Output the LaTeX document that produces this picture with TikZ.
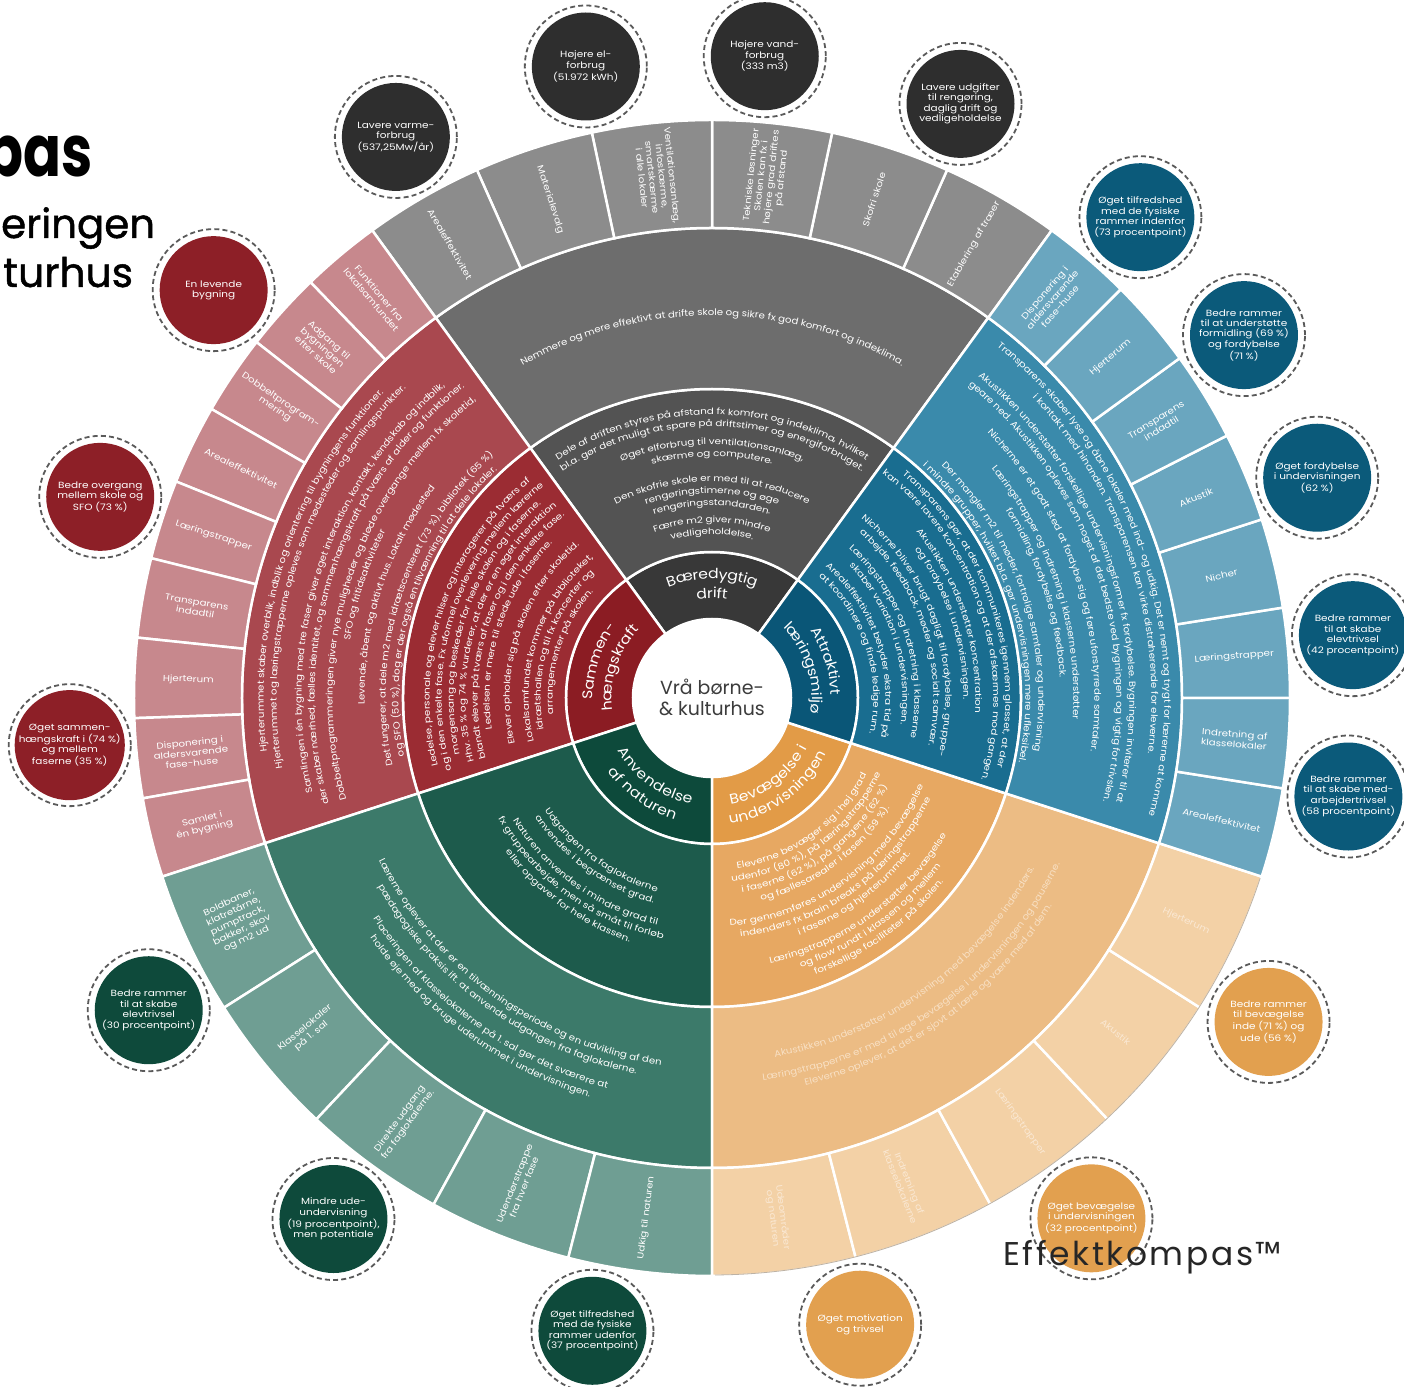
\documentclass[tikz,border=0pt]{standalone}
\usepackage{fontspec}
\setmainfont{Poppins}
\newfontfamily\effk[LetterSpace=8]{Poppins}
\newfontfamily\bodyf[FakeStretch=1.17]{Poppins}
\newfontfamily\bodyw[FakeStretch=1.2]{Poppins}
\newfontfamily\bodyt[FakeStretch=1.12]{Poppins}
\newfontfamily\titlef[FakeBold=1.2]{Poppins}
\usetikzlibrary{decorations.text}

\definecolor{gA}{HTML}{383838}\definecolor{gB}{HTML}{535353}\definecolor{gC}{HTML}{6D6D6D}\definecolor{gD}{HTML}{8C8C8C}
\definecolor{rA}{HTML}{8B1C23}\definecolor{rB}{HTML}{9B2C33}\definecolor{rC}{HTML}{A9484F}\definecolor{rD}{HTML}{C7888D}
\definecolor{bA}{HTML}{0A5677}\definecolor{bB}{HTML}{196D90}\definecolor{bC}{HTML}{3A8AAB}\definecolor{bD}{HTML}{6AA6BF}
\definecolor{oA}{HTML}{E29B47}\definecolor{oB}{HTML}{E7A862}\definecolor{oC}{HTML}{ECBC84}\definecolor{oD}{HTML}{F3D1A6}
\definecolor{nA}{HTML}{0D4A3B}\definecolor{nB}{HTML}{1D5B4C}\definecolor{nC}{HTML}{3C7A6A}\definecolor{nD}{HTML}{6F9E93}
\definecolor{bubdark}{HTML}{2E2E2E}\definecolor{bubblue}{HTML}{0B5A7A}\definecolor{buborange}{HTML}{E2A04F}
\definecolor{bubgreen}{HTML}{0E4A3B}\definecolor{bubred}{HTML}{8D1F27}\definecolor{ringgray}{HTML}{5A5A5A}
\definecolor{ctext}{HTML}{3C3C3C}\definecolor{ofaint}{HTML}{F8E0C4}\definecolor{ofainter}{HTML}{FAE8D3}
\definecolor{oedge}{HTML}{BDB2A4}

\newcommand\fa{\bodyw\fontsize{8.7}{10}\selectfont\color{white}}
\newcommand\fb{\bodyt\fontsize{9.1}{11}\selectfont\color{white}}
\newcommand\fbo{\bodyt\fontsize{9.1}{11}\selectfont\color{ofaint}}
\newcommand\fc{\bodyt\fontsize{14}{16}\selectfont\color{white}}

\newcommand\annsec[5]{%
  \fill[#1,draw=white,line width=2.5bp] (#2:#4) arc[start angle=#2,end angle=#3,radius=#4]
    -- (#3:#5) arc[start angle=#3,end angle=#2,radius=#5] -- cycle;}
\newcommand\toparc[5][-2.6bp]{%
  \pgfmathsetmacro\sa{#2+35.8}\pgfmathsetmacro\ea{#2-35.8}%
  \path[decorate,decoration={text along path,text align=center,raise=#1,text={|#4|#5}}]
    (\sa:#3) arc[start angle=\sa,end angle=\ea,radius=#3];}
\newcommand\botarc[5][-2.6bp]{%
  \pgfmathsetmacro\sa{#2-35.8}\pgfmathsetmacro\ea{#2+35.8}%
  \path[decorate,decoration={text along path,text align=center,raise=#1,text={|#4|#5}}]
    (\sa:#3) arc[start angle=\sa,end angle=\ea,radius=#3];}

\tikzset{
  cell/.style={font=\bodyf\fontsize{8.8}{10.2}\selectfont,text=white,align=center,inner sep=0pt},
  ocell/.style={cell,text=ofainter},
  bub/.style={circle,minimum size=108bp,inner sep=0pt,text=white,align=center,font=\bodyf\fontsize{9.0}{10.5}\selectfont},
  dring/.style={draw=ringgray,line width=1.8bp,dash pattern=on 5bp off 3.2bp}
}

\begin{document}
\begin{tikzpicture}[x=1bp,y=1bp]
\useasboundingbox (-712,-689) rectangle (692,698);
\fill[white] (-712,-689) rectangle (692,698);

% rings 1-3
\foreach \a/\ci/\cii/\ciii in {54/gA/gB/gC,126/rA/rB/rC,198/nA/nB/nC,270/oA/oB/oC,-18/bA/bB/bC}{
  \pgfmathsetmacro\bb{\a+72}
  \annsec{\ci}{\a}{\bb}{79}{146}
  \annsec{\cii}{\a}{\bb}{146}{309}
  \annsec{\ciii}{\a}{\bb}{309}{470}
}
% ring 4 cells
\foreach \i in {0,...,5}{\pgfmathsetmacro\aa{54+12*\i}\pgfmathsetmacro\bb{\aa+12}\annsec{gD}{\aa}{\bb}{470}{578}}
\foreach \i in {0,...,8}{\pgfmathsetmacro\aa{126+8*\i}\pgfmathsetmacro\bb{\aa+8}\annsec{rD}{\aa}{\bb}{470}{578}}
\foreach \i in {0,...,4}{\pgfmathsetmacro\aa{198+14.4*\i}\pgfmathsetmacro\bb{\aa+14.4}\annsec{nD}{\aa}{\bb}{470}{578}}
\foreach \i in {0,...,4}{\pgfmathsetmacro\aa{270+14.4*\i}\pgfmathsetmacro\bb{\aa+14.4}\annsec{oD}{\aa}{\bb}{470}{578}}
\foreach \i in {0,...,7}{\pgfmathsetmacro\aa{-18+9*\i}\pgfmathsetmacro\bb{\aa+9}\annsec{bD}{\aa}{\bb}{470}{578}}
% thin edge along the pale orange cells
\draw[oedge,line width=0.8bp] (270.3:577) arc[start angle=270.3,end angle=341.8,radius=577];

% centre
\node[align=center,font=\fontsize{19}{21}\selectfont,text=ctext] (ctr) at (0,1) {Vrå børne-\\\& kulturhus};

% ring 1 labels
\toparc[-4bp]{90}{123}{\fc}{Bæredygtig}
\toparc[-4bp]{90}{104}{\fc}{drift}
\toparc[-4bp]{162}{123}{\fc}{Sammen-}
\toparc[-4bp]{162}{104}{\fc}{hængskraft}
\toparc[-4bp]{18}{123}{\fc}{Attraktivt}
\toparc[-4bp]{18}{104}{\fc}{læringsmiljø}
\botarc[-4bp]{306}{104}{\fc}{Bevægelse i}
\botarc[-4bp]{306}{123}{\fc}{undervisningen}
\botarc[-4bp]{234}{104}{\fc}{Anvendelse}
\botarc[-4bp]{234}{123}{\fc}{af naturen}

% gray ring 2 and 3
\toparc{90}{286}{\fa}{Dele af driften styres på afstand fx komfort og indeklima, hvilket}
\toparc{90}{274}{\fa}{bl.a. gør det muligt at spare på driftstimer og energiforbruget.}
\toparc{90}{256}{\fa}{Øget elforbrug til ventilationsanlæg,}
\toparc{90}{244}{\fa}{skærme og computere.}
\toparc{90}{219}{\fa}{Den skofrie skole er med til at reducere}
\toparc{90}{207}{\fa}{rengøringstimerne og øge}
\toparc{90}{195}{\fa}{rengøringsstandarden.}
\toparc{90}{178}{\fa}{Færre m2 giver mindre}
\toparc{90}{166}{\fa}{vedligeholdelse.}
\toparc{90}{385}{\fb}{Nemmere og mere effektivt at drifte skole og sikre fx god komfort og indeklima.}

% red ring 2 and 3
\toparc{162}{285}{\fa}{Ledelse, personale og elever hilser og interagerer på tværs af}
\toparc{162}{273}{\fa}{og i den enkelte fase. Fx uformel overlevering mellem lærerne}
\toparc{162}{261}{\fa}{morgensang og beskeder for hele skolen og i faserne.}
\toparc{162}{249}{\fa}{Hhv. 35 {\%} og 74 {\%} vurderer, at der er en øget interaktion}
\toparc{162}{237}{\fa}{blandt elever på tværs af faser og i den enkelte fase.}
\toparc{162}{225}{\fa}{Ledelsen er mere til stede ude i faserne.}
\toparc{162}{205}{\fa}{Elever opholder sig på skolen efter skoletid.}
\toparc{162}{186}{\fa}{Lokalsamfundet kommer på biblioteket,}
\toparc{162}{174}{\fa}{idrætshallen og til fx koncerter og}
\toparc{162}{162}{\fa}{arrangementer på skolen.}
\toparc{162}{451}{\fb}{Hjerterummet skaber overblik, indblik og orientering til bygningens funktioner.}
\toparc{162}{438}{\fb}{Hjerterummet og læringstrapperne opleves som mødesteder og samlingspunkter.}
\toparc{162}{413}{\fb}{Samlingen i én bygning med tre faser giver øget interaktion, kontakt, kendskab og indblik,}
\toparc{162}{400}{\fb}{der skaber nærhed, fælles identitet, og sammenhængskraft på tværs af alder og funktioner.}
\toparc{162}{382}{\fb}{Dobbeltprogrammeringen giver nye muligheder og bløde overgange mellem fx skoletid,}
\toparc{162}{369}{\fb}{SFO og fritidsaktiviteter}
\toparc{162}{350}{\fb}{Levende, åbent og aktivt hus. Lokalt mødested}
\toparc{162}{329}{\fb}{Det fungerer, at dele m2 med idrætscenteret (73 {\%}), bibliotek (65 {\%})}
\toparc{162}{316}{\fb}{og SFO (50 {\%}), dog er der også en tilvænning til at dele lokaler.}

% blue ring 2 and 3
\toparc{18}{296}{\fa}{Transparens gør, at der kommunikeres igennem glasset, at der}
\toparc{18}{284}{\fa}{kan være lavere koncentration og at der afskærmes mod gangen.}
\toparc{18}{266}{\fa}{Akustikken understøtter koncentration}
\toparc{18}{254}{\fa}{og fordybelse i undervisningen.}
\toparc{18}{236}{\fa}{Nicherne bliver brugt dagligt til fordybelse, gruppe-}
\toparc{18}{224}{\fa}{arbejde, feedback, møder og socialt samvær.}
\toparc{18}{205}{\fa}{Læringstrapper og indretning i klasserne}
\toparc{18}{193}{\fa}{skaber variation i undervisningen.}
\toparc{18}{176}{\fa}{Arealeffektivitet betyder ekstra tid på}
\toparc{18}{164}{\fa}{at koordinere og finde ledige rum.}
\toparc{18}{455}{\fb}{Transparens skaber lyse og åbne lokaler med ind- og udkig. Det er nemt og trygt for lærerne at komme}
\toparc{18}{442}{\fb}{i kontakt med hinanden. Transparensen kan virke distraherende for eleverne.}
\toparc{18}{420}{\fb}{Akustikken understøtter forskellige undervisningsformer fx fordybelse. Bygningen inviterer til at}
\toparc{18}{407}{\fb}{geare ned. Akustikken opleves som noget af det bedste ved bygningen og vigtig for trivslen.}
\toparc{18}{385}{\fb}{Nicherne er et godt sted at fordybe sig og føre uforstyrrede samtaler.}
\toparc{18}{364}{\fb}{Læringstrapper og indretning i klasserne understøtter}
\toparc{18}{351}{\fb}{formidling, fordybelse og feedback.}
\toparc{18}{329}{\fb}{Der mangler m2 til møder, fortrolige samtaler og undervisning}
\toparc{18}{316}{\fb}{i mindre grupper, hvilket bl.a. gør undervisningen mere ufleksibel.}

% orange ring 2 and 3
\botarc{306}{170}{\fa}{Eleverne bevæger sig i høj grad}
\botarc{306}{182}{\fa}{udenfor (80 {\%}), på læringstrapperne}
\botarc{306}{194}{\fa}{i faserne (62 {\%}), på gangene (62 {\%})}
\botarc{306}{206}{\fa}{og fællesarealer i fasen (59 {\%}).}
\botarc{306}{226}{\fa}{Der gennemføres undervisning med bevægelse}
\botarc{306}{238}{\fa}{indendørs fx brain breaks på læringstrapperne}
\botarc{306}{250}{\fa}{i faserne og hjerterummet.}
\botarc{306}{269}{\fa}{Læringstrapperne understøtter bevægelse}
\botarc{306}{281}{\fa}{og flow rundt i klassen og mellem}
\botarc{306}{293}{\fa}{forskellige faciliteter på skolen.}
\botarc{306}{362}{\fbo}{Akustikken understøtter undervisning med bevægelse indendørs.}
\botarc{306}{383}{\fbo}{Læringstrapperne er med til øge bevægelse i undervisningen og pauserne.}
\botarc{306}{396}{\fbo}{Eleverne oplever, at det er sjovt at lære og være med af dem.}

% green ring 2 and 3
\botarc{234}{199}{\fa}{Udgangen fra faglokalerne}
\botarc{234}{211}{\fa}{anvendes i begrænset grad.}
\botarc{234}{231}{\fa}{Naturen anvendes i mindre grad til}
\botarc{234}{243}{\fa}{fx gruppearbejde, men så småt til forløb}
\botarc{234}{255}{\fa}{eller opgaver for hele klassen.}
\botarc{234}{368}{\fb}{Lærerne oplever at der er en tilvænningsperiode og en udvikling af den}
\botarc{234}{381}{\fb}{pædagogiske praksis ift. at anvende udgangen fra faglokalerne.}
\botarc{234}{402}{\fb}{Placeringen af klasselokalerne på 1. sal gør det sværere at}
\botarc{234}{415}{\fb}{holde øje med og bruge uderummet i undervisningen.}

% ring 4 cell texts: gray
\node[cell,rotate=-60] (g1) at (120:524) {Arealeffektivitet};
\node[cell,rotate=-72] (g2) at (108:524) {Materialevalg};
\node[cell,rotate=-84] (g3) at (96:524) {Ventilationsanlæg,\\infoskærme,\\smartskærme\\i alle lokaler};
\node[cell,rotate=84] (g4) at (84:524) {Tekniske løsninger\\Skolen kan fx i\\højere grad driftes\\på afstand};
\node[cell,rotate=72] (g5) at (72:524) {Skofri skole};
\node[cell,rotate=60] (g6) at (60:524) {Etablering af træer};
% blue
\node[cell,rotate=49.5] (u1) at (49.5:524) {Disponering i\\aldersvarende\\fase-huse};
\node[cell,rotate=40.5] (u2) at (40.5:524) {Hjerterum};
\node[cell,rotate=31.5] (u3) at (31.5:524) {Transparens\\indadtil};
\node[cell,rotate=22.5] (u4) at (22.5:524) {Akustik};
\node[cell,rotate=13.5] (u5) at (13.5:524) {Nicher};
\node[cell,rotate=4.5] (u6) at (4.5:524) {Læringstrapper};
\node[cell,rotate=-4.5] (u7) at (-4.5:524) {Indretning af\\klasselokaler};
\node[cell,rotate=-13.5] (u8) at (-13.5:524) {Arealeffektivitet};
% orange
\node[ocell,rotate=-82.8] (o1) at (277.2:524) {Udeområder\\og naturen};
\node[ocell,rotate=-68.4] (o2) at (291.6:524) {Indretning af\\klasselokalerne};
\node[ocell,rotate=-54] (o3) at (306:524) {Læringstrapper};
\node[ocell,rotate=-39.6] (o4) at (320.4:524) {Akustik};
\node[ocell,rotate=-25.2] (o5) at (334.8:524) {Hjerterum};
% green
\node[cell,rotate=25.2] (n1) at (205.2:524) {Boldbaner,\\klatretårne,\\pumptrack,\\bakker, skov\\og m2 ud};
\node[cell,rotate=39.6] (n2) at (219.6:524) {Klasselokaler\\på 1. sal};
\node[cell,rotate=54] (n3) at (234:524) {Direkte udgang\\fra faglokalerne.};
\node[cell,rotate=68.4] (n4) at (248.4:524) {Udendørstrappe\\fra hver fase};
\node[cell,rotate=82.8] (n5) at (262.8:524) {Udkig til naturen};
% red
\node[cell,rotate=-50] (s1) at (130:524) {Funktioner fra\\lokalsamfundet};
\node[cell,rotate=-42] (s2) at (138:524) {Adgang til\\bygningen\\efter skole};
\node[cell,rotate=-34] (s3) at (146:524) {Dobbeltprogram-\\mering};
\node[cell,rotate=-26] (s4) at (154:524) {Arealeffektivitet};
\node[cell,rotate=-18] (s5) at (162:524) {Læringstrapper};
\node[cell,rotate=-10] (s6) at (170:524) {Transparens\\indadtil};
\node[cell,rotate=-2] (s7) at (178:524) {Hjerterum};
\node[cell,rotate=6] (s8) at (186:524) {Disponering i\\aldersvarende\\fase-huse};
\node[cell,rotate=14] (s9) at (194:524) {Samlet i\\én bygning};

% bubbles
\node[bub,fill=bubdark] (e1) at (119.4:644) {Lavere varme-\\forbrug\\(537,25Mw/år)};
\node[bub,fill=bubdark] (e2) at (101.3:644) {Højere el-\\forbrug\\(51.972 kWh)};
\node[bub,fill=bubdark] (e3) at (85.3:644) {Højere vand-\\forbrug\\(333 m3)};
\node[bub,fill=bubdark] (e4) at (67.3:644) {Lavere udgifter\\til rengøring,\\daglig drift og\\vedligeholdelse};
\node[bub,fill=bubblue] (e5) at (48.3:644) {Øget tilfredshed\\med de fysiske\\rammer indenfor\\(73 procentpoint)};
\node[bub,fill=bubblue] (e6) at (34.3:644) {Bedre rammer\\til at understøtte\\formidling (69 \%)\\og fordybelse\\(71 \%)};
\node[bub,fill=bubblue] (e7) at (20.0:644) {Øget fordybelse\\i undervisningen\\(62 \%)};
\node[bub,fill=bubblue] (e8) at (5.6:644) {Bedre rammer\\til at skabe\\elevtrivsel\\(42 procentpoint)};
\node[bub,fill=bubblue] (e9) at (-8.8:644) {Bedre rammer\\til at skabe med-\\arbejdertrivsel\\(58 procentpoint)};
\node[bub,fill=buborange] (e10) at (-30.2:644) {Bedre rammer\\til bevægelse\\inde (71 \%) og\\ude (56 \%)};
\node[bub,fill=buborange] (e11) at (-53.9:644) {Øget bevægelse\\i undervisningen\\(32 procentpoint)};
\node[bub,fill=buborange] (e12) at (-76.7:644) {Øget motivation\\og trivsel};
\node[bub,fill=bubgreen] (e13) at (259.3:644) {Øget tilfredshed\\med de fysiske\\rammer udenfor\\(37 procentpoint)};
\node[bub,fill=bubgreen] (e14) at (234.0:644) {Mindre ude-\\undervisning\\(19 procentpoint),\\men potentiale};
\node[bub,fill=bubgreen] (e15) at (209.0:644) {Bedre rammer\\til at skabe\\elevtrivsel\\(30 procentpoint)};
\node[bub,fill=bubred] (e16) at (184.2:644) {Øget sammen-\\hængskraft i (74 \%)\\og mellem\\faserne (35 \%)};
\node[bub,fill=bubred] (e17) at (161.8:644) {Bedre overgang\\mellem skole og\\SFO (73 \%)};
\node[bub,fill=bubred] (e18) at (140.7:644) {En levende\\bygning};
\foreach \n in {e1,e2,e3,e4,e5,e6,e7,e8,e9,e10,e11,e12,e13,e14,e15,e16,e17,e18}{
  \draw[dring] (\n.center) circle[radius=61];
}

% titles
\node[anchor=base east,inner sep=0pt,xscale=0.78,font=\fontsize{72}{80}\selectfont\bfseries] (t1) at (-619,521) {pas};
\node[anchor=base west,inner sep=0pt,font=\titlef\fontsize{40.5}{46}\selectfont] (t2) at (-711,460) {eringen};
\node[anchor=base west,inner sep=0pt,font=\titlef\fontsize{41}{46}\selectfont] (t3) at (-709,411) {turhus};
\node[anchor=base west,inner sep=0pt,font=\effk\fontsize{33}{36}\selectfont,text=black!85] (ek) at (291,-567) {Effektkompas™};
\end{tikzpicture}
\end{document}
